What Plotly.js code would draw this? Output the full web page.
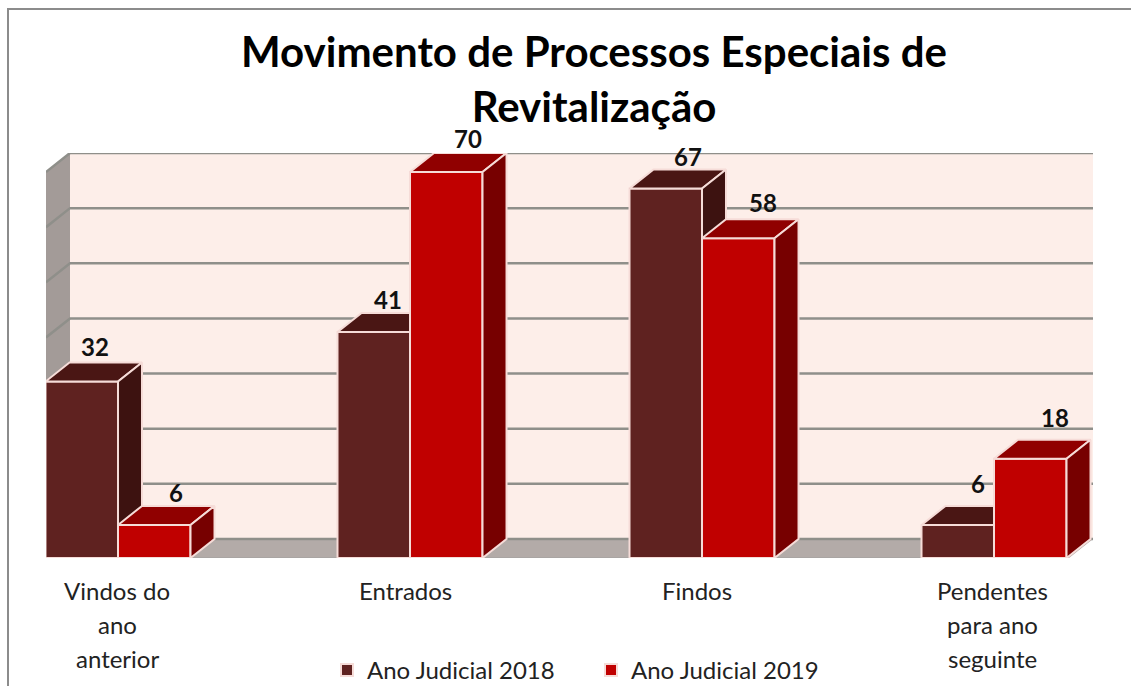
<!DOCTYPE html>
<html><head><meta charset="utf-8">
<script src="https://cdn.plot.ly/plotly-3.0.1.min.js"></script>
<style>html,body{margin:0;padding:0;background:#fff;overflow:hidden}</style>
</head><body><div id="chart" style="width:1131px;height:686px"></div>
<script>
const categoryLines = [["Vindos do","ano","anterior"],["Entrados"],["Findos"],["Pendentes","para ano","seguinte"]];
const categoryPositions = [0, 1, 2, 3];
const values2018 = [32, 41, 67, 6];
const values2019 = [6, 70, 58, 18];
const series2018 = "Ano Judicial 2018";
const series2019 = "Ano Judicial 2019";
const titleText = "Movimento de Processos Especiais de<br>Revitalização";

const W = 1131, H = 686;
const M = {l:46, r:38, t:153, b:128};
const barW = 0.2483, depthX = 0.0822, depthY = 3.45;
const xMin = -0.2466, xMax = 3.339, yMax = 73.45;
const grid = [0,10,20,30,40,50,60,70];
const font = "Lato, Carlito, 'Open Sans', sans-serif";
const C = {b:"#5f2220", bTop:"#4a1614", bSide:"#3d1210", r:"#c00000", rTop:"#900000", rSide:"#770000",
           edge:"#f6dcd8", wall:"#fdeee9", lwall:"#a39b98", floor:"#b3aba8", grid:"#8f8f8a", axis:"#a9a5a3"};
// pixel nudges of the value labels
const nudge2018 = {x:[-7,-6,2,0], y:[1,-2,-2,7]};
const nudge2019 = {x:[2,2,5,5], y:[-2,0,2,7]};

function poly(x, y, color, xa, ya){
  return {type:"scatter", mode:"lines", x, y, xaxis:xa, yaxis:ya, fill:"toself", fillcolor:color,
          line:{color:C.edge, width:2}, hoverinfo:"skip", showlegend:false};
}
function faces(values, start, top, side, xa, ya){
  const out = [];
  values.forEach((v,i)=>{
    const x0 = categoryPositions[i]+start, x1 = x0+barW;
    out.push(poly([x0,x1,x1+depthX,x0+depthX,x0],[v,v,v+depthY,v+depthY,v],top,xa,ya));
    out.push(poly([x1,x1+depthX,x1+depthX,x1,x1],[v,v+depthY,depthY,0,v],side,xa,ya));
  });
  return out;
}
function bars(values, start, color, name, xa, ya){
  return {type:"bar", x:categoryPositions, y:values, width:barW, offset:start, name, xaxis:xa, yaxis:ya,
          marker:{color, line:{color:C.edge, width:2}}, hoverinfo:"skip"};
}
const traces = [
  bars(values2018, -barW, C.b, series2018, "x", "y"),
  ...faces(values2018, -barW, C.bTop, C.bSide, "x", "y"),
  bars(values2019, 0, C.r, series2019, "x2", "y2"),
  ...faces(values2019, 0, C.rTop, C.rSide, "x2", "y2")
];

const shapes = [];
shapes.push({type:"path", layer:"below", xref:"x", yref:"y", line:{width:0}, fillcolor:C.wall,
  path:`M${xMin+depthX},${depthY}L${xMax},${depthY}L${xMax},${yMax}L${xMin+depthX},${yMax}Z`});
shapes.push({type:"path", layer:"below", xref:"x", yref:"y", line:{width:0}, fillcolor:C.lwall,
  path:`M${xMin},0L${xMin+depthX},${depthY}L${xMin+depthX},${yMax}L${xMin},70Z`});
shapes.push({type:"path", layer:"below", xref:"x", yref:"y", line:{width:0}, fillcolor:C.floor,
  path:`M${xMin},0L${xMax-depthX},0L${xMax},${depthY}L${xMin+depthX},${depthY}Z`});
grid.forEach(g=>{
  shapes.push({type:"path", layer:"below", xref:"x", yref:"y", line:{color:C.grid, width:2.5},
    path:`M${xMin},${g}L${xMin+depthX},${g+depthY}L${xMax},${g+depthY}`});
});
shapes.push({type:"line", layer:"below", xref:"x", yref:"y", x0:xMin, x1:xMax-depthX, y0:0, y1:0, line:{color:C.axis, width:2}});
const px = v => (v-M.l)/(W-M.l-M.r), py = v => 1-(v-M.t)/(H-M.t-M.b);
shapes.push({type:"path", xref:"paper", yref:"paper", line:{color:"#8c8c8c", width:2},
  path:`M${px(8)},${py(686)}L${px(8)},${py(9)}L${px(1131)},${py(9)}`});

const annotations = [];
function valueLabels(values, start, nudge){
  values.forEach((v,i)=>{
    annotations.push({xref:"x", yref:"y", x:categoryPositions[i]+start+barW/2, y:v, text:"<b>"+v+"</b>",
      showarrow:false, xshift:20+nudge.x[i], yshift:34+nudge.y[i], font:{family:font, size:24, color:"#111"}});
  });
}
valueLabels(values2018, -barW, nudge2018);
valueLabels(values2019, 0, nudge2019);
categoryLines.forEach((lines,i)=>{
  lines.forEach((t,j)=>{
    annotations.push({xref:"x", yref:"y", x:categoryPositions[i], y:0, text:t, showarrow:false,
      xshift:[-1,-5,-5,-2][i], yshift:-(32+34*j), font:{family:font, size:24, color:"#222"}});
  });
});

const layout = {
  width:W, height:H, margin:{l:M.l, r:M.r, t:M.t, b:M.b},
  paper_bgcolor:"#fff", plot_bgcolor:"rgba(0,0,0,0)",
  title:{text:"<b>"+titleText+"</b>", x:594/W, xanchor:"center", y:1-67/H, yanchor:"top",
         font:{family:font, size:42, color:"#000"}},
  xaxis:{range:[xMin,xMax], showgrid:false, zeroline:false, showticklabels:false, ticks:"", fixedrange:true},
  yaxis:{range:[0,yMax], showgrid:false, zeroline:false, showticklabels:false, ticks:"", fixedrange:true},
  xaxis2:{overlaying:"x", range:[xMin,xMax], visible:false, fixedrange:true},
  yaxis2:{overlaying:"y", range:[0,yMax], visible:false, fixedrange:true},
  legend:{orientation:"h", x:327/W, xref:"container", y:1-648/H, yref:"container", xanchor:"left", yanchor:"top",
          font:{family:font, size:24, color:"#222"}, bgcolor:"rgba(0,0,0,0)", itemwidth:30,
          entrywidth:219, entrywidthmode:"pixels", traceorder:"normal"},
  shapes, annotations, showlegend:true, bargap:0
};
Plotly.newPlot("chart", traces, layout, {displayModeBar:false, staticPlot:true});
</script></body></html>
